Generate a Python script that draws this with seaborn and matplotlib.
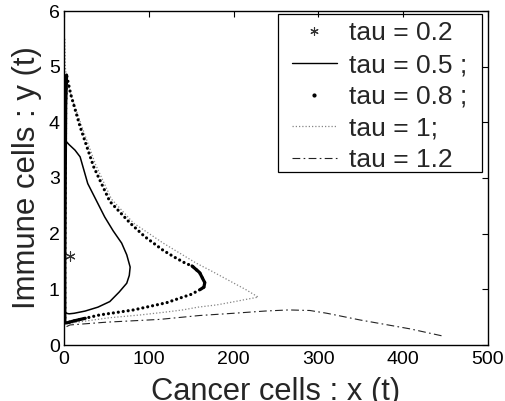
import matplotlib
matplotlib.use("Agg")
import matplotlib.pyplot as plt
from matplotlib.lines import Line2D
from matplotlib.patches import Rectangle
import seaborn as sns
import pandas as pd

# ---- data ----
tau02_x = [7]
tau02_y = [1.6]

tau05_x = [1, 1, 1.5, 3, 6, 13, 19, 28, 38, 48, 58, 68, 74, 78, 77, 74, 65, 54, 40, 25, 12, 6, 3, 1]
tau05_y = [0.60, 2.5, 3.45, 3.65, 3.6, 3.5, 3.38, 2.9, 2.6, 2.3, 2.05, 1.83, 1.62, 1.40, 1.25, 1.11,
           0.95, 0.78, 0.68, 0.61, 0.57, 0.56, 0.57, 0.60]

tau08_x = [1, 1, 1.5, 2, 3, 8, 19, 35, 54, 78, 95, 117, 130, 143, 151, 160, 166, 165, 161,
           150, 140, 121, 100, 82, 60, 42, 25, 11, 4, 1]
tau08_y = [0.40, 1.5, 3.0, 4.3, 4.85, 4.5, 3.92, 3.2, 2.58, 2.19, 1.95, 1.70, 1.58, 1.47, 1.42,
           1.30, 1.12, 1.04, 1.00, 0.91, 0.86, 0.76, 0.69, 0.63, 0.58, 0.54, 0.48, 0.43, 0.40, 0.40]
tau08_dense = [(0, 4), (14, 18), (26, 29)]   # slow parts of the trajectory (points crowd together)

tau10_x = [1, 1.5, 3, 8, 20, 37, 56, 82, 117, 156, 175, 198, 215, 229, 215, 198, 180, 158, 140,
           119, 90, 54, 30, 7, 2]
tau10_y = [5.5, 5.0, 4.8, 4.5, 3.97, 3.25, 2.62, 2.19, 1.83, 1.47, 1.32, 1.13, 0.99, 0.86, 0.82,
           0.77, 0.72, 0.68, 0.63, 0.59, 0.54, 0.49, 0.44, 0.39, 0.38]

tau12_x = [3, 7, 50, 113, 160, 200, 237, 265, 290, 310, 349, 408, 447]
tau12_y = [0.33, 0.36, 0.41, 0.46, 0.53, 0.57, 0.61, 0.63, 0.62, 0.57, 0.45, 0.29, 0.16]

labels = ["tau = 0.2", "tau = 0.5 ;", "tau = 0.8 ;", "tau = 1;", "tau = 1.2"]
x_ticks = [0, 100, 200, 300, 400, 500]
y_ticks = [0, 1, 2, 3, 4, 5, 6]

# ---- style ----
sns.set_style("white")
plt.rcParams["font.family"] = ["Liberation Sans", "DejaVu Sans"]
plt.rcParams["xtick.direction"] = "in"
plt.rcParams["ytick.direction"] = "in"

ASTERISK = (6, 2, 0)
W, H = 506, 401

fig = plt.figure(figsize=(W / 100, H / 100), dpi=100)
ax = fig.add_axes([64 / W, 1 - 345 / H, (488 - 64) / W, (345 - 11) / H])

df05 = pd.DataFrame({"x": tau05_x, "y": tau05_y})
df08 = pd.DataFrame({"x": tau08_x, "y": tau08_y})
df10 = pd.DataFrame({"x": tau10_x, "y": tau10_y})
df12 = pd.DataFrame({"x": tau12_x, "y": tau12_y})
df02 = pd.DataFrame({"x": tau02_x, "y": tau02_y})

# tau = 1.2 dash-dot
sns.lineplot(data=df12, x="x", y="y", sort=False, estimator=None, ax=ax,
             color="#222222", lw=0.8)
ax.lines[-1].set_dashes([7, 3, 1.5, 3])
# tau = 1 gray dotted
sns.lineplot(data=df10, x="x", y="y", sort=False, estimator=None, ax=ax,
             color="#858585", lw=0.9)
ax.lines[-1].set_dashes([1, 1.6])
# tau = 0.8 big dots
sns.lineplot(data=df08, x="x", y="y", sort=False, estimator=None, ax=ax,
             color="black", lw=2.3)
ln = ax.lines[-1]
ln.set_dashes([0.01, 1.55])
ln.set_dash_capstyle("round")
for a, b in tau08_dense:
    sns.lineplot(data=df08.iloc[a:b + 1], x="x", y="y", sort=False, estimator=None, ax=ax,
                 color="black", lw=2.3)
# tau = 0.5 solid
sns.lineplot(data=df05, x="x", y="y", sort=False, estimator=None, ax=ax,
             color="black", lw=1.1)
# tau = 0.2 asterisk
sns.scatterplot(data=df02, x="x", y="y", ax=ax, marker=ASTERISK, s=45, color="#333333",
                edgecolor="#333333", linewidth=0.8)

ax.set_xlim(0, 500)
ax.set_ylim(0, 6)
ax.set_xticks(x_ticks)
ax.set_yticks(y_ticks)
ax.tick_params(axis="both", labelsize=14, length=4, width=0.8, top=True, right=True,
               colors="black")
ax.tick_params(axis="x", pad=4)
ax.tick_params(axis="y", pad=3)
for s in ax.spines.values():
    s.set_visible(True)
    s.set_color("black")
    s.set_linewidth(1.0)

ax.set_xlabel("Cancer cells : x (t)", fontsize=22, labelpad=7)
ax.set_ylabel("Immune cells : y (t)", fontsize=21, labelpad=5)

# fit axis-label sizes to the reference's text lengths (pixels)
fig.canvas.draw()
r = fig.canvas.get_renderer()
xl, yl = ax.xaxis.label, ax.yaxis.label
xl.set_fontsize(xl.get_fontsize() * 248 / xl.get_window_extent(r).width)
yl.set_fontsize(yl.get_fontsize() * 262 / yl.get_window_extent(r).height)

handles = [
    Line2D([], [], ls="none", marker=ASTERISK, ms=6, mew=0.8, color="#333333"),
    Line2D([], [], color="black", lw=1.0),
    Line2D([], [], ls="none", marker=".", ms=4, color="black"),
    Line2D([], [], color="#858585", lw=0.9, dashes=[1, 1.6]),
    Line2D([], [], color="#222222", lw=0.8, dashes=[7, 3, 1.5, 3]),
]
leg = ax.legend(handles, labels, loc="upper left", fontsize=19, frameon=False,
                bbox_to_anchor=(292 / W, 1 - 21.5 / H), bbox_transform=fig.transFigure,
                borderaxespad=0, handlelength=1.7, handletextpad=0.45,
                labelspacing=0.29, borderpad=0)
# MATLAB-like legend box
fig.add_artist(Rectangle((278 / W, 1 - 172 / H), (482 - 278) / W, (172 - 14) / H,
                         transform=fig.transFigure, facecolor="none", edgecolor="black",
                         lw=0.9, zorder=1))

fig.savefig("out.png", dpi=100)
